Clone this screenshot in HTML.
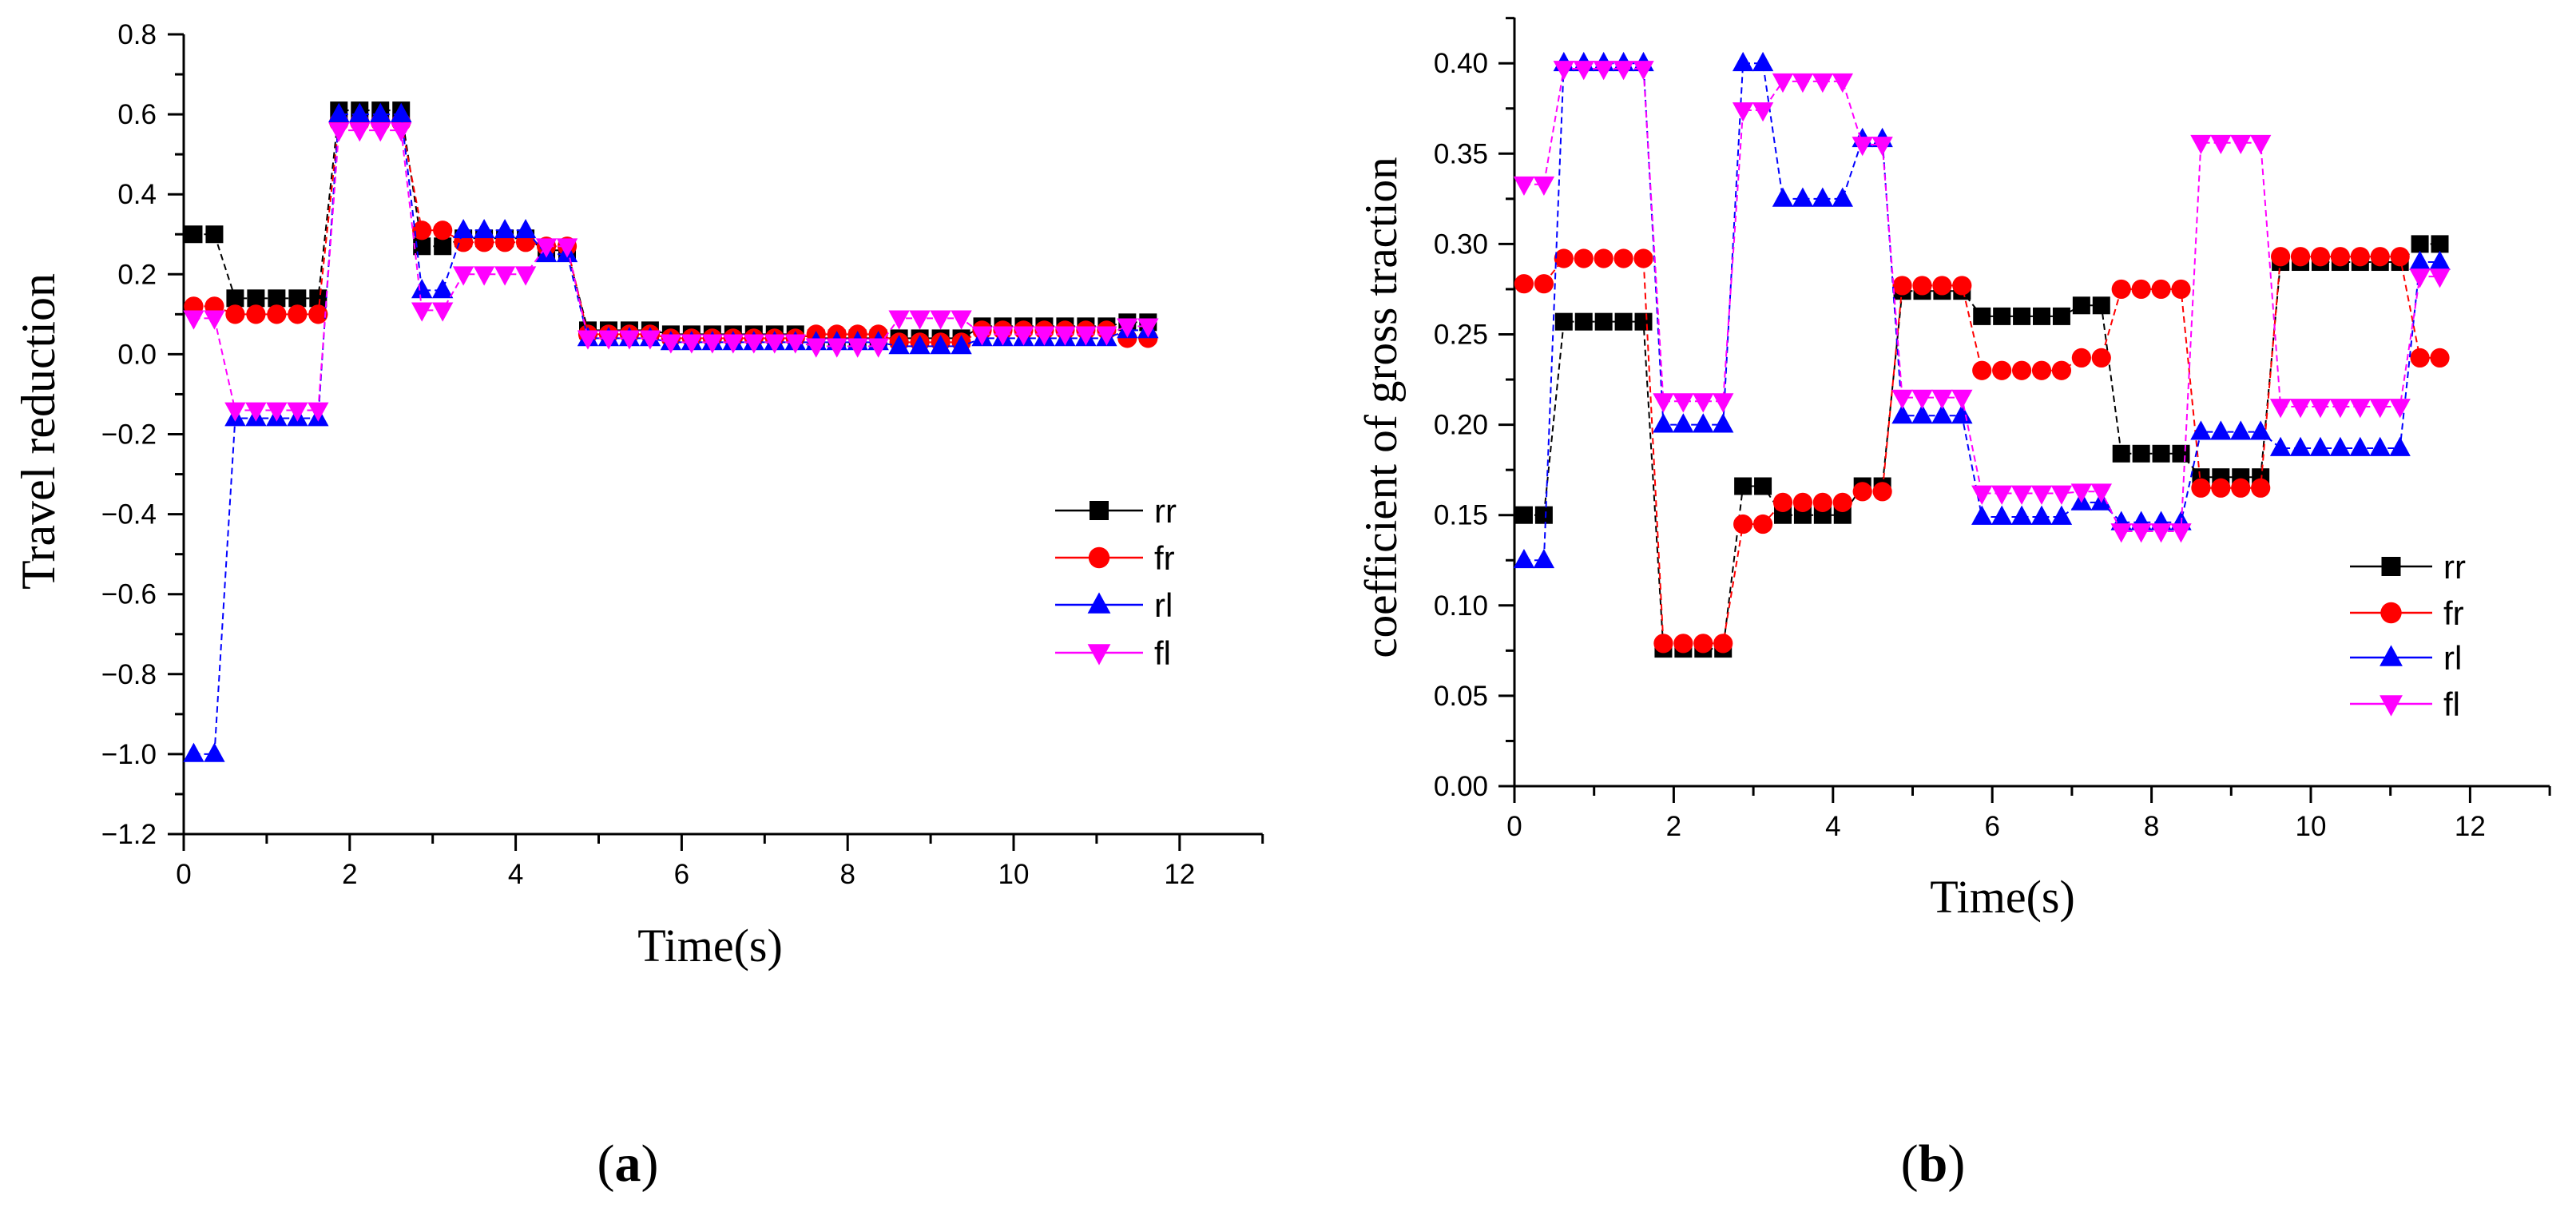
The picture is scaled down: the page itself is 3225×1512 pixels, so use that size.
<!DOCTYPE html>
<html><head><meta charset="utf-8"><style>
html,body{margin:0;padding:0;background:#fff}
svg{display:block}
</style></head><body>
<svg id="fig" width="3225" height="1512" viewBox="0 0 3225 1512" xmlns="http://www.w3.org/2000/svg">
<rect x="0" y="0" width="3225" height="1512" fill="#fff"/>
<g id="chartA"></g>
<g id="chartB"></g>
<text x="786" y="1478" font-family="Liberation Serif, serif" font-size="66" text-anchor="middle">(<tspan font-weight="bold">a</tspan>)</text>
<text x="2420" y="1478" font-family="Liberation Serif, serif" font-size="66" text-anchor="middle">(<tspan font-weight="bold">b</tspan>)</text>
</svg>
<script>
const times = [];
for (let i = 0; i < 47; i++) times.push(0.12 + 0.25 * i);
const seriesNames = ["rr","fr","rl","fl"];
const a_rr = [0.30,0.30,0.14,0.14,0.14,0.14,0.14,0.61,0.61,0.61,0.61,0.27,0.27,0.29,0.29,0.29,0.29,0.26,0.26,0.06,0.06,0.06,0.06,0.05,0.05,0.05,0.05,0.05,0.05,0.05,0.04,0.04,0.04,0.04,0.04,0.04,0.04,0.04,0.07,0.07,0.07,0.07,0.07,0.07,0.07,0.08,0.08];
const a_fr = [0.12,0.12,0.10,0.10,0.10,0.10,0.10,0.58,0.58,0.58,0.58,0.31,0.31,0.28,0.28,0.28,0.28,0.27,0.27,0.05,0.05,0.05,0.05,0.04,0.04,0.04,0.04,0.04,0.04,0.04,0.05,0.05,0.05,0.05,0.03,0.03,0.03,0.03,0.06,0.06,0.06,0.06,0.06,0.06,0.06,0.04,0.04];
const a_rl = [-1.0,-1.0,-0.16,-0.16,-0.16,-0.16,-0.16,0.60,0.60,0.60,0.60,0.16,0.16,0.31,0.31,0.31,0.31,0.25,0.25,0.04,0.04,0.04,0.04,0.03,0.03,0.03,0.03,0.03,0.03,0.03,0.03,0.03,0.03,0.03,0.02,0.02,0.02,0.02,0.04,0.04,0.04,0.04,0.04,0.04,0.04,0.06,0.06];
const a_fl = [0.09,0.09,-0.14,-0.14,-0.14,-0.14,-0.14,0.56,0.56,0.56,0.56,0.11,0.11,0.20,0.20,0.20,0.20,0.27,0.27,0.04,0.04,0.04,0.04,0.03,0.03,0.03,0.03,0.03,0.03,0.03,0.02,0.02,0.02,0.02,0.09,0.09,0.09,0.09,0.05,0.05,0.05,0.05,0.05,0.05,0.05,0.07,0.07];
const b_rr = [0.150,0.150,0.257,0.257,0.257,0.257,0.257,0.076,0.076,0.076,0.076,0.166,0.166,0.150,0.150,0.150,0.150,0.166,0.166,0.274,0.274,0.274,0.274,0.260,0.260,0.260,0.260,0.260,0.266,0.266,0.184,0.184,0.184,0.184,0.171,0.171,0.171,0.171,0.290,0.290,0.290,0.290,0.290,0.290,0.290,0.300,0.300];
const b_fr = [0.278,0.278,0.292,0.292,0.292,0.292,0.292,0.079,0.079,0.079,0.079,0.145,0.145,0.157,0.157,0.157,0.157,0.163,0.163,0.277,0.277,0.277,0.277,0.230,0.230,0.230,0.230,0.230,0.237,0.237,0.275,0.275,0.275,0.275,0.165,0.165,0.165,0.165,0.293,0.293,0.293,0.293,0.293,0.293,0.293,0.237,0.237];
const b_rl = [0.125,0.125,0.400,0.400,0.400,0.400,0.400,0.200,0.200,0.200,0.200,0.400,0.400,0.325,0.325,0.325,0.325,0.358,0.358,0.205,0.205,0.205,0.205,0.149,0.149,0.149,0.149,0.149,0.157,0.157,0.146,0.146,0.146,0.146,0.196,0.196,0.196,0.196,0.187,0.187,0.187,0.187,0.187,0.187,0.187,0.290,0.290];
const b_fl = [0.333,0.333,0.397,0.397,0.397,0.397,0.397,0.213,0.213,0.213,0.213,0.374,0.374,0.390,0.390,0.390,0.390,0.355,0.355,0.215,0.215,0.215,0.215,0.162,0.162,0.162,0.162,0.162,0.163,0.163,0.141,0.141,0.141,0.141,0.356,0.356,0.356,0.356,0.210,0.210,0.210,0.210,0.210,0.210,0.210,0.282,0.282];
const a_yTicks = ["0.8","0.6","0.4","0.2","0.0","−0.2","−0.4","−0.6","−0.8","−1.0","−1.2"];
const b_yTicks = ["0.00","0.05","0.10","0.15","0.20","0.25","0.30","0.35","0.40"];
const xTickLabels = ["0","2","4","6","8","10","12"];

const NS = "http://www.w3.org/2000/svg";
const colors = {rr:"#000000", fr:"#ff0000", rl:"#0000ff", fl:"#ff00ff"};
function mk(parent, tag, attrs){ const e=document.createElementNS(NS,tag); for(const k in attrs) e.setAttribute(k,attrs[k]); parent.appendChild(e); return e; }

function marker(g, name, cx, cy, s){
  let e;
  if(name==="rr") e=mk(g,"rect",{x:cx-s*0.5,y:cy-s*0.5,width:s,height:s,fill:colors.rr});
  else if(name==="fr") e=mk(g,"circle",{cx:cx,cy:cy,r:s*0.55,fill:colors.fr});
  else if(name==="rl") e=mk(g,"polygon",{points:`${cx-s*0.6},${cy+s*0.45} ${cx+s*0.6},${cy+s*0.45} ${cx},${cy-s*0.65}`,fill:colors.rl});
  else e=mk(g,"polygon",{points:`${cx-s*0.6},${cy-s*0.45} ${cx+s*0.6},${cy-s*0.45} ${cx},${cy+s*0.65}`,fill:colors.fl});
  return e;
}

function drawChart(cfg){
  const g=document.getElementById(cfg.id);
  const X=v=>cfg.x0+(v-cfg.xmin)*cfg.xs;
  const Y=v=>cfg.y0-(v-cfg.ymin)*cfg.ys;
  const axisG=mk(g,"g",{});
  
  
  // axes
  mk(axisG,"line",{x1:cfg.x0,y1:cfg.y0,x2:cfg.x0,y2:cfg.ytop,stroke:"#000","stroke-width":3});
  mk(axisG,"line",{x1:cfg.x0,y1:cfg.y0,x2:X(13),y2:cfg.y0,stroke:"#000","stroke-width":3});
  // y ticks
  for(let i=0;i<cfg.yLabels.length;i++){
    const v=cfg.yFirst+i*cfg.yStep, y=Y(v);
    mk(axisG,"line",{x1:cfg.x0-20,y1:y,x2:cfg.x0,y2:y,stroke:"#000","stroke-width":3});
    const t=mk(axisG,"text",{x:cfg.ylabX,y:y+12,"font-family":"Liberation Sans, sans-serif","font-size":35,"text-anchor":"end",fill:"#000"});
    t.textContent=cfg.yLabels[i];
    
    
    if(i<cfg.yLabels.length-1 || cfg.extraMinor){
      const ym=Y(v+cfg.yStep*0.5*cfg.minorDir);
      if(ym>=cfg.ytop-1 && ym<=cfg.y0) mk(axisG,"line",{x1:cfg.x0-11,y1:ym,x2:cfg.x0,y2:ym,stroke:"#000","stroke-width":3});
    }
  }
  // x ticks
  for(let v=0; v<=13; v++){
    const x=X(v), major=v%2===0;
    mk(axisG,"line",{x1:x,y1:cfg.y0,x2:x,y2:cfg.y0+(major?21:12),stroke:"#000","stroke-width":3});
  }
  xTickLabels.forEach((lab,i)=>{
    const t=mk(axisG,"text",{x:X(i*2),y:cfg.y0+62,"font-family":"Liberation Sans, sans-serif","font-size":35,"text-anchor":"middle",fill:"#000"});
    t.textContent=lab;
    
    
  });
  const xt=mk(g,"text",{x:cfg.xTitleX,y:cfg.xTitleY,"font-family":"Liberation Serif, serif","font-size":58,"text-anchor":"middle",fill:"#000"});
  xt.textContent="Time(s)";
  
  
  const yt=mk(g,"text",{x:0,y:0,transform:`translate(${cfg.yTitleX},${cfg.yTitleY}) rotate(-90)`,"font-family":"Liberation Serif, serif","font-size":cfg.yTitleSize,"text-anchor":"middle",fill:"#000"});
  yt.textContent=cfg.yTitle;
  
  
  // series
  seriesNames.forEach((nm,si)=>{
    const vals=cfg.data[si];
    const sg=mk(g,"g",{});
    
    
    const pts=times.map((t,i)=>X(t)+","+Y(vals[i])).join(" ");
    const pl=mk(sg,"polyline",{points:pts,fill:"none",stroke:colors[nm],"stroke-width":2,"stroke-dasharray":"8,5"});
    
    
    times.forEach((t,i)=>{
      const m=marker(sg,nm,X(t),Y(vals[i]),22);
      
      
    });
  });
  // legend
  const lg=mk(g,"g",{});
  
  
  seriesNames.forEach((nm,i)=>{
    const y=cfg.legY[i];
    const eg=mk(lg,"g",{});
    
    
    mk(eg,"line",{x1:cfg.legX1,y1:y,x2:cfg.legX2,y2:y,stroke:colors[nm],"stroke-width":2.5});
    marker(eg,nm,(cfg.legX1+cfg.legX2)/2,y,24);
    const t=mk(eg,"text",{x:cfg.legX2+14,y:y+15,"font-family":"Liberation Sans, sans-serif","font-size":42,fill:"#000"});
    t.textContent=nm;
  });
}

drawChart({id:"chartA",prefix:"a",x0:230,xmin:0,xs:103.9,y0:1044,ymin:-1.2,ys:500.5,ytop:43,
  yFirst:0.8,yStep:-0.2,minorDir:1,yLabels:a_yTicks,extraMinor:false,ylabX:196,
  xTitleX:889,xTitleY:1203,yTitle:"Travel reduction",yTitleX:68,yTitleY:540,yTitleSize:60,
  data:[a_rr,a_fr,a_rl,a_fl],legX1:1321,legX2:1431,legY:[639,698,757,817]});
drawChart({id:"chartB",prefix:"b",x0:1896,xmin:0,xs:99.7,y0:984,ymin:0,ys:2262,ytop:22,
  yFirst:0,yStep:0.05,minorDir:1,yLabels:b_yTicks,extraMinor:true,ylabX:1863,
  xTitleX:2507,xTitleY:1142,yTitle:"coefficient of gross traction",yTitleX:1748,yTitleY:510,yTitleSize:57,
  data:[b_rr,b_fr,b_rl,b_fl],legX1:2942,legX2:3045,legY:[709,767,823,881]});
</script>
</body></html>
